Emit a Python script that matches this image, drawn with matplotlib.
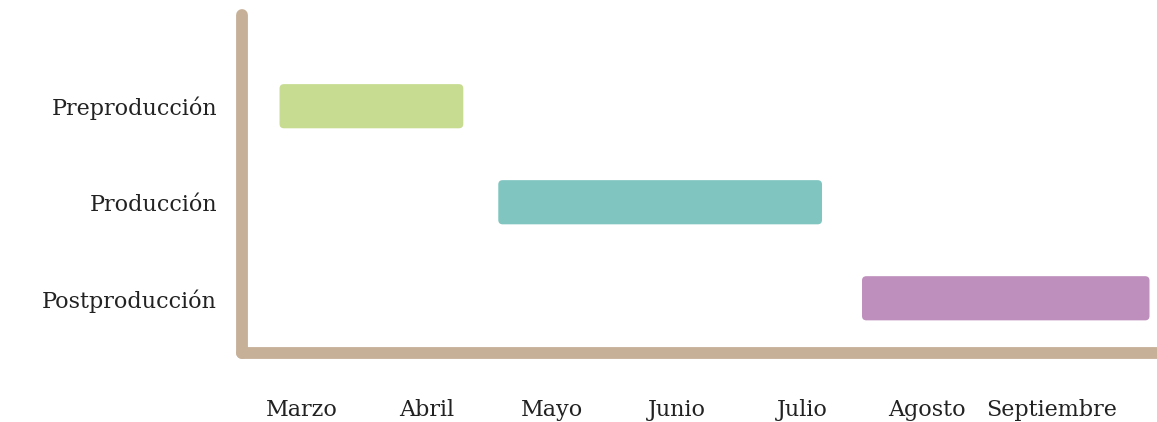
import matplotlib.pyplot as plt
from matplotlib.patches import FancyBboxPatch

# datos del cronograma (meses: Marzo = 0)
meses = ['Marzo', 'Abril', 'Mayo', 'Junio', 'Julio', 'Agosto', 'Septiembre']
fases = ['Postproducción', 'Producción', 'Preproducción']
inicio = [4.48, 1.57, -0.18]
fin = [6.78, 4.16, 1.29]
colores = ['#be8ebc', '#80c5c0', '#c8dc91']

color_eje = '#c6b097'

plt.rcParams['font.family'] = ['DejaVu Serif']

fig = plt.figure(figsize=(11.57, 4.22), dpi=100)
ax = fig.add_axes([0.2092, 0.1635, 0.7908, 0.801])

alto = 0.46
for i, (a, b, c) in enumerate(zip(inicio, fin, colores)):
    # barras con esquinas redondeadas
    caja = FancyBboxPatch((a, i - alto / 2), b - a, alto,
                          boxstyle='round,pad=0,rounding_size=0.035',
                          mutation_aspect=1.3, facecolor=c, edgecolor='none')
    ax.add_patch(caja)

ax.set_xlim(-0.48, 6.84)
ax.set_ylim(-0.57, 2.95)

ax.set_xticks(range(len(meses)))
ax.set_xticklabels(meses)
ax.set_yticks(range(len(fases)))
ax.set_yticklabels(fases)

for lado in ['top', 'right']:
    ax.spines[lado].set_visible(False)
for lado in ['left', 'bottom']:
    ax.spines[lado].set_color(color_eje)
    ax.spines[lado].set_linewidth(8.5)
    ax.spines[lado].set_capstyle('round')

ax.tick_params(axis='both', length=0, labelsize=16, colors='#222222')
ax.tick_params(axis='y', pad=18)
ax.tick_params(axis='x', pad=33)

fig.savefig('out.png', dpi=100)
